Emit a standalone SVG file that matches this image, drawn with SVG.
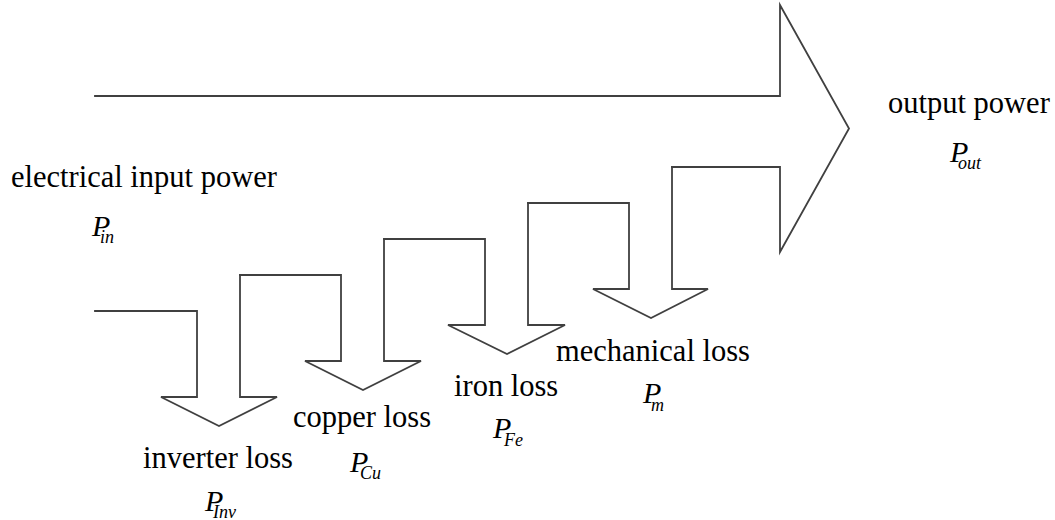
<svg xmlns="http://www.w3.org/2000/svg" width="1055" height="520" viewBox="0 0 1055 520">
<style>
.flow{fill:none;stroke:#404040;stroke-width:1.8;stroke-linecap:square;stroke-linejoin:miter}
.lbl{font-family:"Liberation Serif","Times New Roman",serif;font-size:30.5px;fill:#000}
.sym{font-family:"Liberation Serif","Times New Roman",serif;font-style:italic;font-size:30px;fill:#000}
.sub{font-size:18px}
</style>
<rect width="1055" height="520" fill="#fff"/>
<g id="connectors">
<path id="flow-inverter" class="flow" d="M95,311 H197 V397 H161 L219,426 L277,397 H240 V275"/>
<path id="flow-copper" class="flow" d="M240,275 H341 V361 H305 L363,390 L421,361 H384 V239"/>
<path id="flow-iron" class="flow" d="M384,239 H485 V325 H448 L507,354 L565,325 H528 V203"/>
<path id="flow-mech" class="flow" d="M528,203 H629 V289 H593 L651,318 L708,289 H672 V167"/>
<path id="flow-output" class="flow" d="M672,167 H780 V252 L849,128.5 L780,5 V96 H95"/>
</g>
<g id="input">
<text class="lbl" x="11" y="187">electrical input power</text>
<text class="sym" x="92" y="236">P<tspan class="sub" x="100" dy="7">in</tspan></text>
</g>
<g id="output">
<text class="lbl" x="888" y="113">output power</text>
<text class="sym" x="950" y="162">P<tspan class="sub" x="958" dy="7">out</tspan></text>
</g>
<g id="inverter-loss">
<text class="lbl" x="143" y="468">inverter loss</text>
<text class="sym" x="205" y="511">P<tspan class="sub" x="213" dy="7">Inv</tspan></text>
</g>
<g id="copper-loss">
<text class="lbl" x="293" y="427">copper loss</text>
<text class="sym" x="350" y="472">P<tspan class="sub" x="360" dy="7">Cu</tspan></text>
</g>
<g id="iron-loss">
<text class="lbl" x="454" y="396">iron loss</text>
<text class="sym" x="493" y="438">P<tspan class="sub" x="504" dy="8">Fe</tspan></text>
</g>
<g id="mechanical-loss">
<text class="lbl" x="556" y="361">mechanical loss</text>
<text class="sym" x="643" y="403">P<tspan class="sub" x="651" dy="8">m</tspan></text>
</g>
</svg>
